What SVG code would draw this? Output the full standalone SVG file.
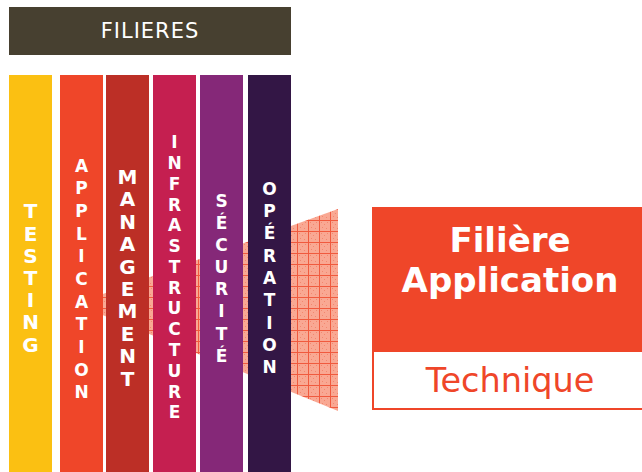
<svg xmlns="http://www.w3.org/2000/svg" width="642" height="472" viewBox="0 0 642 472">
<style>
  .col-label { font-family: "DejaVu Sans", Verdana, sans-serif; font-weight: bold; fill: #ffffff; text-anchor: middle; }
  .big { font-size: 20px; }
  .small { font-size: 17px; }
</style>
<defs>
  <pattern id="grid" width="11" height="11" patternUnits="userSpaceOnUse">
    <rect width="11" height="11" fill="#f9a893"/>
    <rect x="2" y="2" width="1" height="1" fill="#f2876f"/>
    <rect x="5" y="4" width="1" height="1" fill="#f2876f"/>
    <rect x="8" y="2" width="1" height="1" fill="#f2876f"/>
    <rect x="3" y="7" width="1" height="1" fill="#f2876f"/>
    <rect x="7" y="8" width="1" height="1" fill="#f2876f"/>
    <path d="M0 0.5H11M0.5 0V11" stroke="#f05a3e" stroke-width="1" fill="none"/>
  </pattern>
</defs>
<rect width="642" height="472" fill="#ffffff"/>

<g id="connectors">
  <polygon points="100,295 338,209 338,411 100,314" fill="url(#grid)"/>
</g>

<g id="header">
  <rect x="9" y="7" width="282" height="48" fill="#474030"/>
  <text x="150" y="38.3" font-family="DejaVu Sans, Verdana, sans-serif" font-size="21" letter-spacing="1" fill="#ffffff" text-anchor="middle">FILIERES</text>
</g>

<g id="testing">
  <rect x="9" y="75" width="43" height="397" fill="#fbc012"/>
  <text class="col-label big">
    <tspan x="30.5" y="218.3">T</tspan><tspan x="30.5" y="240.5">E</tspan><tspan x="30.5" y="262.7">S</tspan><tspan x="30.5" y="284.9">T</tspan><tspan x="30.5" y="307.1">I</tspan><tspan x="30.5" y="329.3">N</tspan><tspan x="30.5" y="351.5">G</tspan>
  </text>
</g>

<g id="application">
  <rect x="60" y="75" width="43" height="397" fill="#ef4629"/>
  <text class="col-label small">
    <tspan x="81.5" y="171.7">A</tspan><tspan x="81.5" y="194.35">P</tspan><tspan x="81.5" y="217">P</tspan><tspan x="81.5" y="239.65">L</tspan><tspan x="81.5" y="262.3">I</tspan><tspan x="81.5" y="284.95">C</tspan><tspan x="81.5" y="307.6">A</tspan><tspan x="81.5" y="330.25">T</tspan><tspan x="81.5" y="352.9">I</tspan><tspan x="81.5" y="375.55">O</tspan><tspan x="81.5" y="398.2">N</tspan>
  </text>
</g>

<g id="management">
  <rect x="106" y="75" width="43" height="397" fill="#bc2f26"/>
  <text class="col-label big">
    <tspan x="127.5" y="184">M</tspan><tspan x="127.5" y="206.4">A</tspan><tspan x="127.5" y="228.8">N</tspan><tspan x="127.5" y="251.2">A</tspan><tspan x="127.5" y="273.6">G</tspan><tspan x="127.5" y="296">E</tspan><tspan x="127.5" y="318.4">M</tspan><tspan x="127.5" y="340.8">E</tspan><tspan x="127.5" y="363.2">N</tspan><tspan x="127.5" y="385.6">T</tspan>
  </text>
</g>

<g id="infrastructure">
  <rect x="153" y="75" width="43" height="397" fill="#c51f50"/>
  <text class="col-label small">
    <tspan x="174.5" y="148.3">I</tspan><tspan x="174.5" y="169.07">N</tspan><tspan x="174.5" y="189.84">F</tspan><tspan x="174.5" y="210.61">R</tspan><tspan x="174.5" y="231.38">A</tspan><tspan x="174.5" y="252.15">S</tspan><tspan x="174.5" y="272.92">T</tspan><tspan x="174.5" y="293.69">R</tspan><tspan x="174.5" y="314.46">U</tspan><tspan x="174.5" y="335.23">C</tspan><tspan x="174.5" y="356">T</tspan><tspan x="174.5" y="376.77">U</tspan><tspan x="174.5" y="397.54">R</tspan><tspan x="174.5" y="418.3">E</tspan>
  </text>
</g>

<g id="securite">
  <rect x="200" y="75" width="43" height="397" fill="#852878"/>
  <text class="col-label small">
    <tspan x="221.5" y="206.7">S</tspan><tspan x="221.5" y="228.84">É</tspan><tspan x="221.5" y="250.98">C</tspan><tspan x="221.5" y="273.12">U</tspan><tspan x="221.5" y="295.26">R</tspan><tspan x="221.5" y="317.4">I</tspan><tspan x="221.5" y="339.54">T</tspan><tspan x="221.5" y="361.7">É</tspan>
  </text>
</g>

<g id="operation">
  <rect x="248" y="75" width="43" height="397" fill="#331645"/>
  <text class="col-label small">
    <tspan x="269.5" y="194.6">O</tspan><tspan x="269.5" y="216.93">P</tspan><tspan x="269.5" y="239.26">É</tspan><tspan x="269.5" y="261.59">R</tspan><tspan x="269.5" y="283.92">A</tspan><tspan x="269.5" y="306.25">T</tspan><tspan x="269.5" y="328.58">I</tspan><tspan x="269.5" y="350.91">O</tspan><tspan x="269.5" y="373.2">N</tspan>
  </text>
</g>

<g id="filiere-application">
  <rect x="372" y="207" width="270" height="144" fill="#ef4629"/>
  <rect x="373" y="351" width="271" height="58" fill="#ffffff" stroke="#ef4629" stroke-width="2"/>
  <text x="510" y="252.3" font-family="DejaVu Sans, Verdana, sans-serif" font-weight="bold" font-size="34" fill="#ffffff" text-anchor="middle">Filière</text>
  <text x="510" y="291.7" font-family="DejaVu Sans, Verdana, sans-serif" font-weight="bold" font-size="34" fill="#ffffff" text-anchor="middle">Application</text>
  <text x="510" y="391.5" font-family="DejaVu Sans, Verdana, sans-serif" font-size="33.5" fill="#ef4629" text-anchor="middle">Technique</text>
</g>
</svg>
